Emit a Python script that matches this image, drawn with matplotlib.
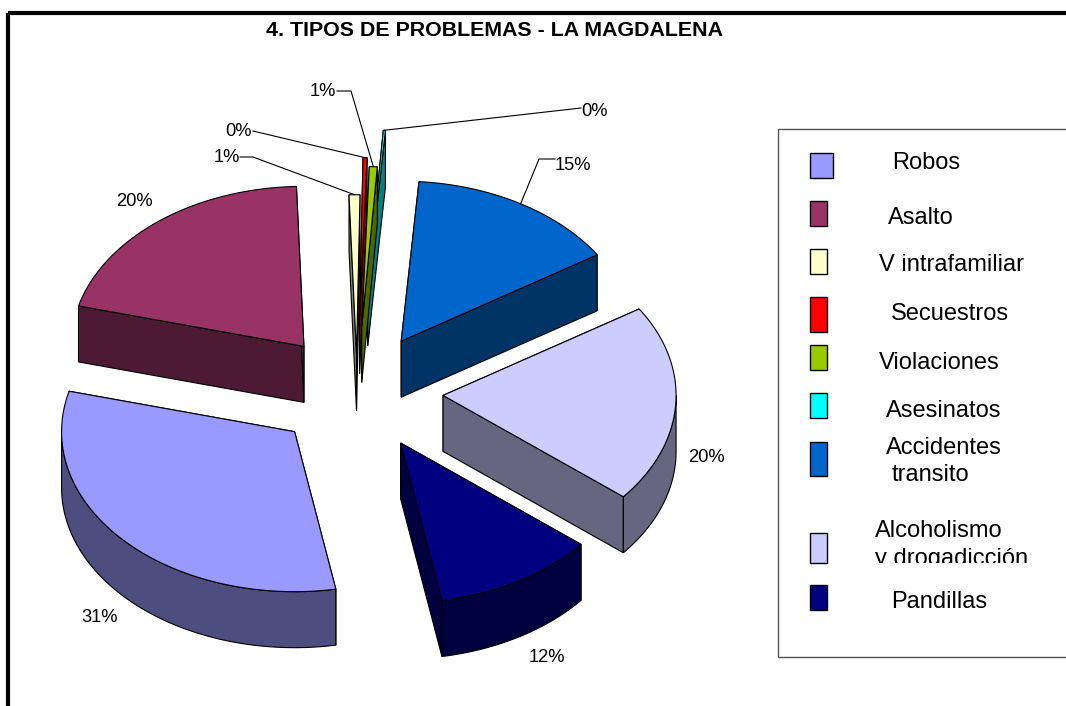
import numpy as np
import matplotlib
matplotlib.use("Agg")
import matplotlib.pyplot as plt
from matplotlib.patches import Polygon, Rectangle

plt.rcParams['font.family'] = ['Liberation Sans', 'DejaVu Sans']

# values (the small ones only by their width)
categories = ["Robos", "Asalto", "V intrafamiliar", "Secuestros", "Violaciones",
              "Asesinatos", "Accidentes\ntransito", "Alcoholismo\ny drogadicción", "Pandillas"]
values = [31.9, 20.42, 0.75, 0.28, 0.55, 0.15, 14.7, 20.0, 11.25]
pct_labels = ["31%", "20%", "1%", "0%", "1%", "0%", "15%", "20%", "12%"]
explode = [0.365, 0.365, 0.233, 0.465, 0.41, 0.64, 0.37, 0.37, 0.37]
top_colors = ["#9999FF", "#993366", "#FFFFCC", "#FF0000", "#99CC00",
              "#00FFFF", "#0066CC", "#CCCCFF", "#000080"]
side_colors = ["#4D4D80", "#4D1A33", "#808066", "#800000", "#4D6600",
               "#008080", "#003366", "#666680", "#000040"]

# pie geometry in pixels
cx, cy = 357, 392
rx, ry = 233, 160
depth = 56
start_angle = 79.8

# label text position, and elbow of the leader line (None = no leader)
label_pos = [(100, 618), (134, 202), (227, 158), (239, 132), (323, 92),
             (595, 112), (573, 165), (706, 457), (547, 658)]
leader_pts = [None, None, [(240, 157), (253, 157)], [(253, 131)], [(337, 91), (351, 91)],
              [(581, 108)], [(555, 159), (539, 159)], None, None]

# legend text: one (x, y) for each line, and key box (y top, y bottom, width)
legend_text_pos = [[(892, 163)], [(888, 218)], [(879, 265)], [(891, 314)], [(879, 363)],
                   [(886, 411)], [(886, 448), (892, 475)], [(875, 531), (875, 559)], [(891, 602)]]
legend_keys = [(153, 178, 23), (201, 226, 17), (249, 274, 17), (297, 332, 17), (345, 370, 17),
               (393, 418, 17), (442, 476, 17), (533, 563, 17), (585, 610, 17)]

fig = plt.figure(figsize=(10.66, 7.06), dpi=100)
ax = fig.add_axes([0, 0, 1, 1])
ax.set_xlim(0, 1066)
ax.set_ylim(706, 0)
ax.axis("off")

lw = 0.8


def edge_point(ox, oy, t):
    return ox + rx * np.cos(np.radians(t)), oy + ry * np.sin(np.radians(t))


fracs = np.array(values) / sum(values) * 360
starts = start_angle + np.concatenate([[0], np.cumsum(fracs)[:-1]])
ends = starts + fracs
mids = (starts + ends) / 2
apex_x = cx + np.array(explode) * rx * np.cos(np.radians(mids))
apex_y = cy + np.array(explode) * ry * np.sin(np.radians(mids))

# back slices first
for i in np.argsort(apex_y):
    ox, oy = apex_x[i], apex_y[i]
    z = 2 + np.argsort(np.argsort(apex_y))[i] * 0.1
    # cut faces
    for t in (starts[i], ends[i]):
        ex, ey = edge_point(ox, oy, t)
        ax.add_patch(Polygon([(ox, oy), (ex, ey), (ex, ey + depth), (ox, oy + depth)],
                             fc=side_colors[i], ec="black", lw=lw, zorder=z))
    # outer wall, only the part turned to the viewer
    for shift in (0, 360):
        a = max(starts[i], shift)
        b = min(ends[i], shift + 180)
        if a < b:
            ts = np.linspace(a, b, 80)
            px, py = edge_point(ox, oy, ts)
            wall = list(zip(px, py)) + list(zip(px[::-1], py[::-1] + depth))
            ax.add_patch(Polygon(wall, fc=side_colors[i], ec="black", lw=lw, zorder=z))
    # top
    ts = np.linspace(starts[i], ends[i], 120)
    px, py = edge_point(ox, oy, ts)
    ax.add_patch(Polygon([(ox, oy)] + list(zip(px, py)), fc=top_colors[i], ec="black", lw=lw, zorder=z))

# percent labels with leaders
for i in range(len(values)):
    x, y = label_pos[i]
    ax.text(x, y, pct_labels[i], fontsize=13.2, ha="center", va="center", color="black", zorder=6)
    if leader_pts[i] is not None:
        ex, ey = edge_point(apex_x[i], apex_y[i], mids[i])
        pts = leader_pts[i] + [(ex, ey)]
        ax.plot([p[0] for p in pts], [p[1] for p in pts], color="black", lw=lw, zorder=5)

# legend
ax.add_patch(Rectangle((778, 129), 320, 528, fc="white", ec="#555555", lw=1, zorder=1))
text_clip = Rectangle((778, 129), 320, 434, transform=ax.transData)
for i, name in enumerate(categories):
    y0, y1, w = legend_keys[i]
    ax.add_patch(Rectangle((810, y0), w, y1 - y0, fc=top_colors[i], ec="black", lw=1, zorder=2))
    for line, (x, y) in zip(name.split("\n"), legend_text_pos[i]):
        t = ax.text(x, y, line, fontsize=17, ha="left", va="center", color="black", zorder=3)
        if i == 7:
            t.set_clip_path(text_clip)
            t.set_clip_on(True)

# outer frame, runs off the right and bottom edge
ax.add_patch(Rectangle((8, 13), 1200, 900, fc="none", ec="black", lw=3, zorder=7))
ax.text(494, 30, "4. TIPOS DE PROBLEMAS - LA MAGDALENA", fontsize=15.4, fontweight="bold",
        ha="center", va="center", color="black", zorder=8)

fig.savefig("out.png", dpi=100)
